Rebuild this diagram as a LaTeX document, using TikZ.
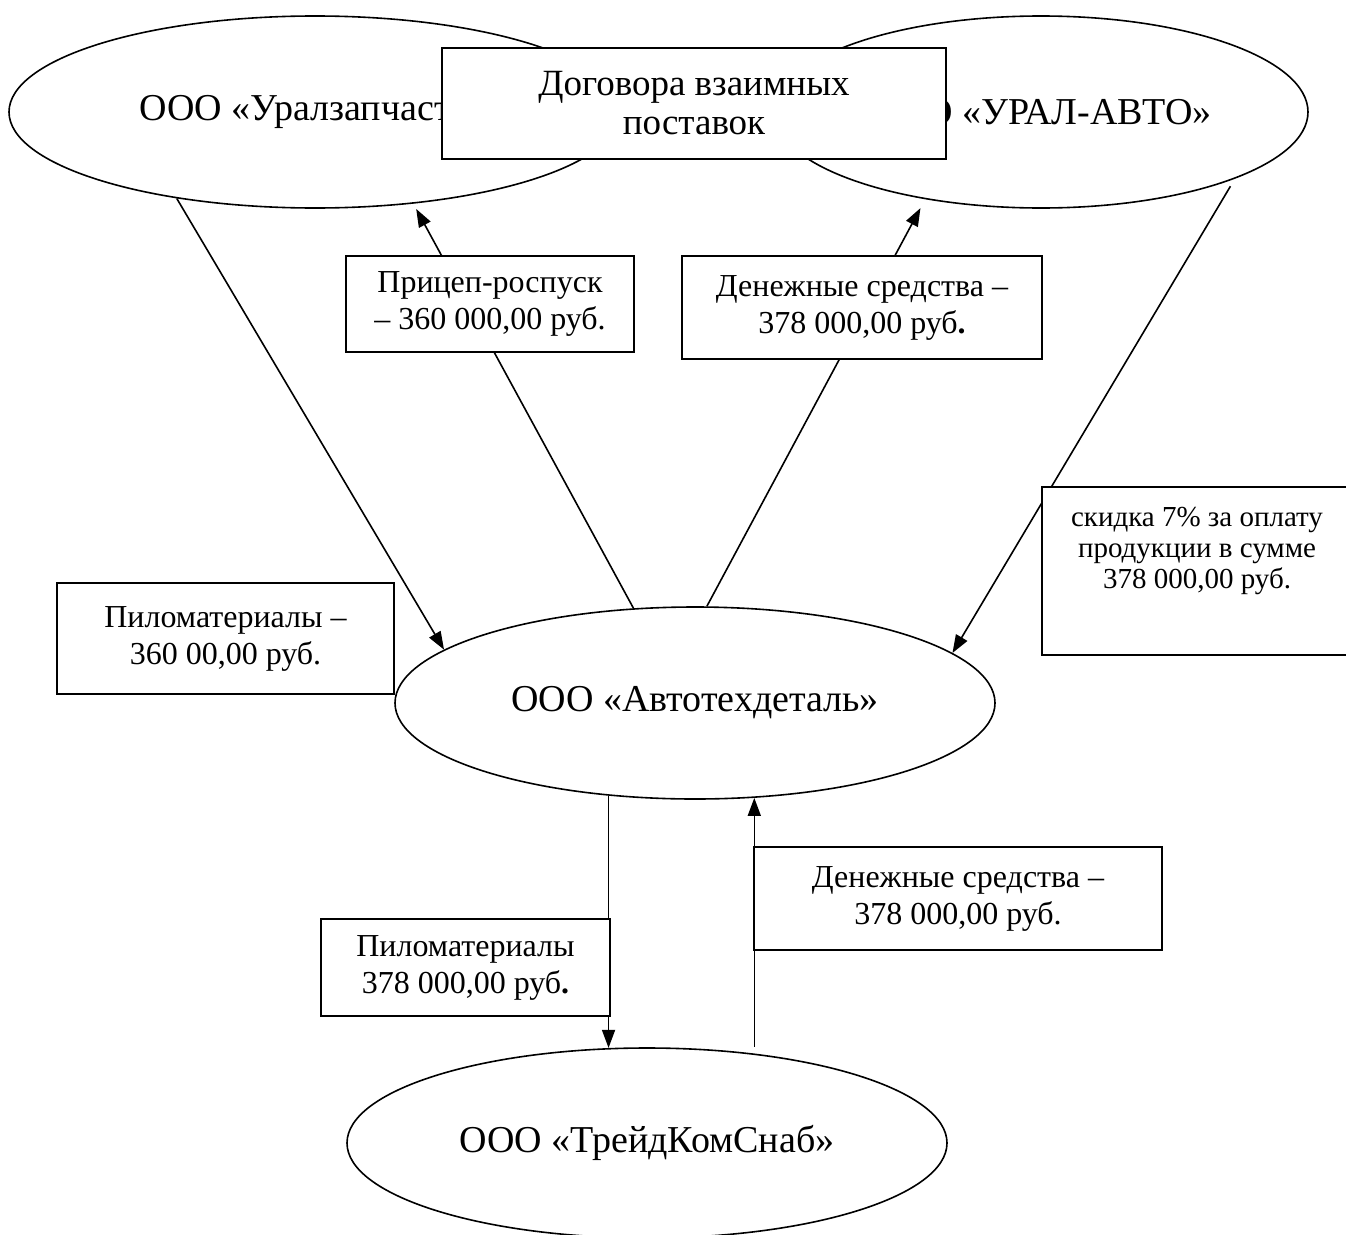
\documentclass[tikz,border=0pt]{standalone}
\usepackage{fontspec}
\setmainfont{Liberation Serif}
\usetikzlibrary{shapes.geometric,arrows.meta,backgrounds,calc}
\begin{document}
\begin{tikzpicture}[x=1pt,y=-1pt,
  org/.style={ellipse,draw,line width=1.6pt,fill=white,inner sep=0pt,font=\fontsize{38}{42}\selectfont},
  lbl/.style={rectangle,draw,line width=1.9pt,fill=white,inner sep=0pt,align=center,font=\fontsize{32}{37}\selectfont},
  flow/.style={line width=1.6pt,-{Triangle[length=18pt,width=13pt]}},
]
\useasboundingbox (0,0) rectangle (1346,1234);
% organisations
\node[org,minimum width=612,minimum height=192] (ural) at (315,112) {ООО «Уралзапчасти»};
\node[org,minimum width=534,minimum height=192] (uauto) at (1041,112) {ООО «УРАЛ-АВТО»};
\node[org,minimum width=600,minimum height=192] (avto) at (695,703) {ООО «Автотехдеталь»};
\node[org,minimum width=600,minimum height=190] (treid) at (647,1143) {ООО «ТрейдКомСнаб»};
% label boxes
\node[lbl,font=\fontsize{37}{39}\selectfont,minimum width=504,minimum height=111] (dogovor) at (694,103.5) {Договора взаимных\\поставок};
\node[lbl,minimum width=288,minimum height=96] (pricep) at (490,304) {Прицеп-роспуск\\– 360 000,00 руб.};
\node[lbl,minimum width=360,minimum height=103] (den1) at (862,307.5) {Денежные средства –\\378 000,00 руб\textbf{.}};
\node[lbl,minimum width=337,minimum height=111] (pilo1) at (225.5,638.5) {Пиломатериалы –\\360 00,00 руб.};
\node[lbl,minimum width=310,minimum height=168] (skidka) at (1197,571) {};
\node[font=\fontsize{29}{31}\selectfont,align=center,anchor=north,inner sep=0pt] (skidkatext) at (1197,507) {скидка 7\% за оплату\\продукции в сумме\\378 000,00 руб.};
\node[lbl,minimum width=289,minimum height=97] (pilo2) at (465.5,967.5) {Пиломатериалы\\378 000,00 руб\textbf{.}};
\node[lbl,minimum width=408,minimum height=103] (den2) at (958,898.5) {Денежные средства –\\378 000,00 руб.};
% connectors
\begin{pgfonlayer}{background}
\draw[flow] (ural.212.3) -- (avto.168.7);
\draw[flow,shorten >=6pt] (avto.123) -- (ural.317.9);
\draw[flow,shorten >=10pt] (avto.83.5) -- (uauto.217.35);
\draw[flow,shorten <=8.7pt] (uauto.341.6) -- (avto.11.6);
\draw[flow] (avto.227.3) -- (avto.227.3 |- treid.111.4);
\draw[flow,shorten <=7pt] (avto.302.1 |- treid.39.66) -- (avto.302.1);
\end{pgfonlayer}
\end{tikzpicture}
\end{document}
